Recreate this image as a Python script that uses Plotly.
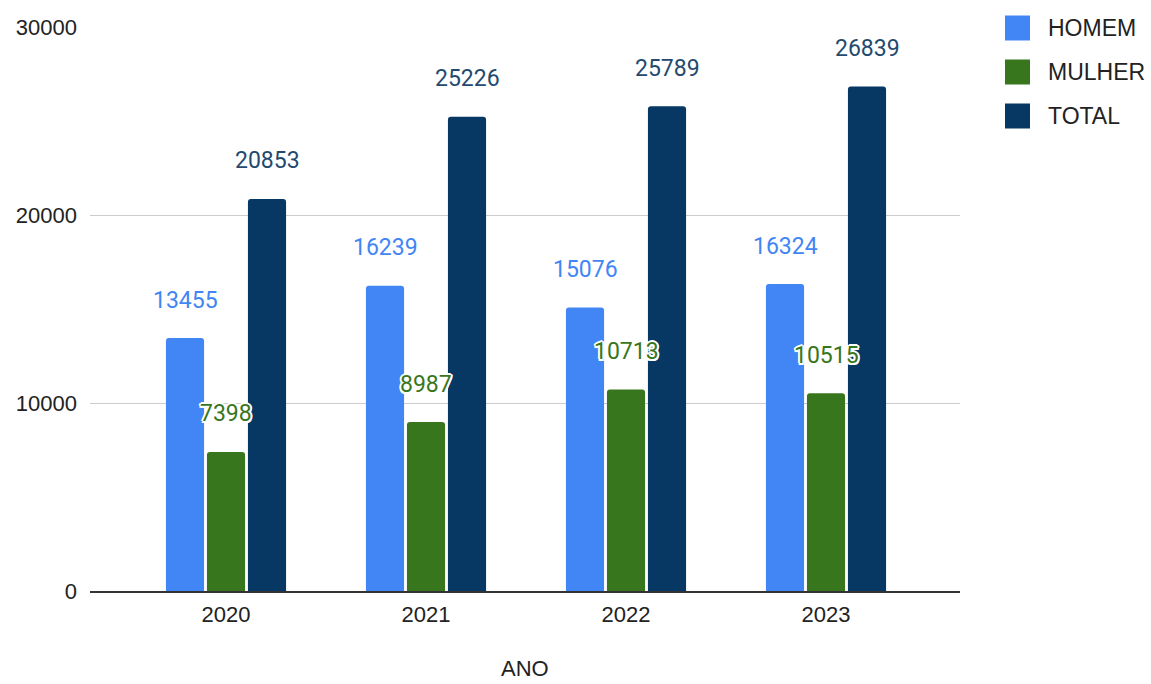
import plotly.graph_objects as go

years = ["2020", "2021", "2022", "2023"]
homem = [13455, 16239, 15076, 16324]
mulher = [7398, 8987, 10713, 10515]
total = [20853, 25226, 25789, 26839]

series = [
    ("HOMEM", homem, "#4285F4", "#4285F4", None),
    ("MULHER", mulher, "#38761D", "#38761D",
     "white 2px 0px 0px, white -2px 0px 0px, white 0px 2px 0px, white 0px -2px 0px, "
     "white 1.5px 1.5px 0px, white -1.5px -1.5px 0px, white 1.5px -1.5px 0px, white -1.5px 1.5px 0px"),
    ("TOTAL", total, "#073763", "#234a6e", None),
]

BARGAP = 0.385
BARGROUPGAP = 0.07
slot = (1 - BARGAP) / len(series)

# plot area geometry (pixels) used for the custom legend
W, H = 1151, 684
ML, MR, MT, MB = 90, 191, 27, 93
PW, PH = W - ML - MR, H - MT - MB

fig = go.Figure()
annotations = []
shapes = []
for j, (name, vals, color, tcolor, shadow) in enumerate(series):
    fig.add_trace(go.Bar(
        name=name, x=years, y=vals, marker=dict(color=color, line=dict(width=0)),
        showlegend=False,
    ))
    for i, v in enumerate(vals):
        font = dict(family="Roboto", size=23, color=tcolor)
        if shadow:
            font["shadow"] = shadow
        annotations.append(dict(
            x=i + (j - (len(series) - 1) / 2) * slot, y=v, xref="x", yref="y",
            text=str(v), showarrow=False, yshift=38, yanchor="middle",
            font=font,
        ))
    # legend entry
    cy = 28 + 44 * j
    x0, x1 = 1005, 1030
    shapes.append(dict(
        type="rect", xref="paper", yref="paper",
        x0=(x0 - ML) / PW, x1=(x1 - ML) / PW,
        y0=(H - MB - (cy - 12.5)) / PH, y1=(H - MB - (cy + 12.5)) / PH,
        fillcolor=color, line=dict(width=0),
    ))
    annotations.append(dict(
        x=(1046 - ML) / PW, y=(H - MB - cy) / PH, xref="paper", yref="paper",
        xanchor="left", yanchor="middle", text=name, showarrow=False,
        font=dict(family="Liberation Sans, Arial", size=23, color="#222"),
    ))

annotations.append(dict(
    x=0.5, y=(H - MB - 683) / PH, xref="paper", yref="paper", text="ANO", showarrow=False,
    yanchor="bottom", font=dict(family="Liberation Sans, Arial", size=22, color="#222"),
))

fig.update_layout(
    width=W, height=H,
    margin=dict(l=ML, r=MR, t=MT, b=MB),
    paper_bgcolor="white", plot_bgcolor="white",
    barmode="group", bargap=BARGAP, bargroupgap=BARGROUPGAP,
    barcornerradius=3,
    font=dict(family="Liberation Sans, Arial", size=22, color="#222"),
    annotations=annotations,
    shapes=shapes,
    showlegend=False,
    xaxis=dict(
        type="category", range=[-0.68, 3.67],
        showgrid=False, showline=True, linecolor="#333", linewidth=2,
        ticks="", ticklabelstandoff=3, tickfont=dict(size=22, color="#222"),
    ),
    yaxis=dict(
        range=[0, 30000], tickvals=[0, 10000, 20000, 30000],
        tickformat="d", showgrid=True, gridcolor="#cccccc", gridwidth=1,
        zeroline=False, showline=False, ticks="", ticklabelstandoff=12,
        tickfont=dict(size=22, color="#222"),
    ),
)

fig.write_html("out.html")
